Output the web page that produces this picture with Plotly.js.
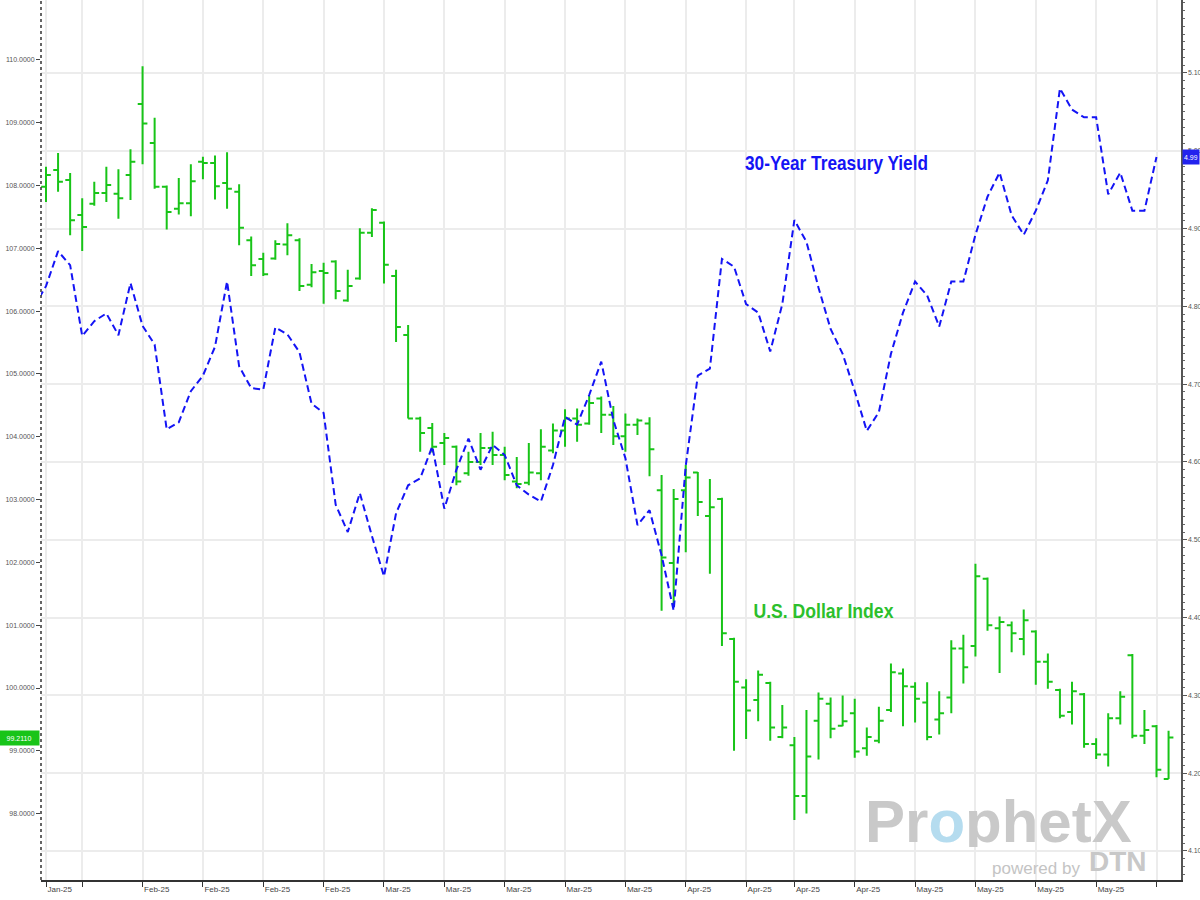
<!DOCTYPE html>
<html><head><meta charset="utf-8">
<script src="https://cdn.plot.ly/plotly-3.0.1.min.js"></script>
<style>html,body{margin:0;padding:0;background:#fff;} #chart{width:1200px;height:900px;}</style>
</head><body><div id="chart"></div>
<script>
// U.S. Dollar Index daily bars (index 0 = first visible session)
const dxyOpen = [107.98,108.25,108.09,107.53,107.71,107.88,107.87,108.17,109.30,108.68,
107.98,107.63,107.72,108.38,108.36,108.04,107.90,107.13,106.83,106.84,
107.06,107.13,106.42,106.64,106.79,106.17,106.52,107.25,107.41,106.56,
105.62,104.29,104.14,103.90,103.84,103.42,103.60,103.82,103.71,103.29,
103.27,103.42,103.78,104.10,104.29,104.21,104.61,104.35,104.01,104.19,
104.21,103.15,101.99,103.15,103.43,102.74,103.01,100.78,100.01,99.81,
100.08,99.22,99.09,98.28,99.48,99.75,99.40,99.60,99.04,99.16,
99.65,100.23,100.02,99.77,99.50,99.85,100.63,100.67,101.74,100.95,
101.00,100.78,100.90,100.42,99.97,99.62,99.90,99.11,98.94,99.52,
100.52,99.24,99.39,98.55];
const dxyHigh = [108.30,108.52,108.20,107.80,108.06,108.30,108.26,108.58,109.90,109.08,
108.00,108.12,108.34,108.46,108.48,108.53,108.02,107.19,106.93,107.13,
107.40,107.16,106.75,106.77,106.81,106.66,107.32,107.64,107.43,106.66,
105.78,104.32,104.22,104.06,103.86,103.76,104.06,104.08,103.84,103.68,
103.90,104.12,104.21,104.44,104.45,104.65,104.64,104.49,104.37,104.29,
104.31,103.39,103.17,103.55,103.44,103.33,103.03,100.80,100.14,100.28,
100.10,99.73,99.22,99.65,99.93,99.85,99.88,99.83,99.37,99.70,
100.39,100.31,100.09,100.09,99.95,100.76,100.85,101.98,101.76,101.14,
101.06,101.25,100.92,100.55,99.99,100.10,99.92,99.20,99.60,99.95,
100.54,99.65,99.41,99.32];
const dxyLow = [107.74,107.90,107.21,106.96,107.68,107.74,107.47,107.77,108.34,107.95,
107.30,107.54,107.51,108.10,107.78,107.63,107.05,106.56,106.56,106.82,
106.89,106.32,106.38,106.12,106.19,106.15,106.50,107.18,106.44,105.51,
104.29,103.76,103.75,103.55,103.23,103.38,103.55,103.55,103.31,103.18,
103.23,103.31,103.74,103.84,103.92,104.19,104.06,103.87,103.76,104.03,
103.37,101.23,101.30,102.16,102.74,101.82,100.67,99.00,99.19,99.47,
99.16,99.20,97.90,98.00,98.86,99.20,99.39,98.89,98.92,99.12,
99.62,99.39,99.45,99.17,99.26,99.60,100.07,100.50,100.91,100.24,
100.57,100.52,100.05,99.99,99.52,99.42,99.05,98.87,98.75,99.42,
99.20,99.11,98.58,98.55];
const dxyClose = [108.17,108.06,107.45,107.34,107.88,108.01,107.80,108.38,108.99,107.98,
107.58,107.72,108.07,108.36,107.99,107.95,107.33,106.73,106.59,107.07,
107.21,106.40,106.62,106.61,106.32,106.40,107.25,107.61,106.74,105.75,
104.29,104.06,103.84,103.98,103.29,103.60,103.82,103.71,103.39,103.25,
103.43,103.84,104.10,104.29,104.19,104.54,104.35,104.01,104.19,104.26,
103.80,102.08,103.01,103.35,102.96,102.88,100.87,100.10,99.64,100.21,
99.37,99.37,98.28,98.91,99.83,99.35,99.47,98.99,99.22,99.48,
100.25,100.03,99.83,99.22,99.60,100.63,100.33,101.78,101.00,101.05,
100.87,101.08,100.42,100.10,99.56,99.95,99.11,98.94,99.52,99.86,
99.24,99.33,98.70,99.21];
// 30-Year Treasury yield (%), first value sits one session before the first bar
const yield30 = [4.799,
4.826,4.871,4.853,4.762,4.781,4.791,4.763,4.830,4.775,4.751,
4.642,4.651,4.691,4.711,4.748,4.832,4.723,4.695,4.693,4.773,
4.764,4.741,4.675,4.663,4.545,4.510,4.560,4.505,4.453,4.534,
4.570,4.579,4.620,4.540,4.590,4.630,4.590,4.622,4.609,4.570,
4.558,4.549,4.596,4.658,4.648,4.686,4.729,4.654,4.605,4.519,
4.538,4.480,4.409,4.595,4.711,4.720,4.861,4.851,4.803,4.792,
4.742,4.803,4.911,4.883,4.824,4.771,4.739,4.691,4.640,4.664,
4.739,4.792,4.832,4.814,4.774,4.832,4.832,4.892,4.941,4.972,
4.917,4.892,4.923,4.962,5.080,5.053,5.043,5.043,4.944,4.972,
4.923,4.923,4.992];
// weekly tick positions (session index) and their labels
const tickIdx = [0,3,8,13,18,23,28,33,38,43,48,53,58,62,67,72,77,82,87,92];
const tickLabels = ['Jan-25','','Feb-25','Feb-25','Feb-25','Feb-25','Mar-25','Mar-25','Mar-25','Mar-25',
'Mar-25','Apr-25','Apr-25','Apr-25','Apr-25','May-25','May-25','May-25','May-25',''];
const dxyTicks = [98,99,100,101,102,103,104,105,106,107,108,109,110];
const lastDxyLabel = '99.2110';
const lastYieldLabel = '4.99';
const yieldTitle = '30-Year Treasury Yield';
const dxyTitle = 'U.S. Dollar Index';

const barX = dxyOpen.map((_, i) => i);
const yieldX = yield30.map((_, i) => i - 1);

const GREEN = '#18c418';
const BLUE = '#1414f5';
const SANS = 'Liberation Sans, Arial, sans-serif';

const traces = [
  {type:'ohlc', x:barX, open:dxyOpen, high:dxyHigh, low:dxyLow, close:dxyClose,
   increasing:{line:{color:GREEN, width:2}}, decreasing:{line:{color:GREEN, width:2}},
   tickwidth:0.4, hoverinfo:'none', showlegend:false, xaxis:'x', yaxis:'y'},
  {type:'scatter', mode:'lines', x:yieldX, y:yield30,
   line:{color:BLUE, width:2, dash:'7px,4px'}, hoverinfo:'none', showlegend:false,
   xaxis:'x', yaxis:'y2'}
];

const layout = {
  width:1200, height:900,
  margin:{l:41, r:19, t:0, b:20, pad:0},
  paper_bgcolor:'#ffffff', plot_bgcolor:'#ffffff',
  showlegend:false,
  xaxis:{range:[-0.414, 94.03], tickmode:'array', tickvals:tickIdx, ticktext:tickLabels,
    ticks:'outside', ticklen:5, tickcolor:'#333', tickwidth:1,
    ticklabelposition:'outside right',
    showgrid:true, gridcolor:'#ececec', gridwidth:2,
    showline:true, linecolor:'#333', linewidth:2, zeroline:false,
    rangeslider:{visible:false}, fixedrange:true,
    tickfont:{family:SANS, size:8, color:'#444'}},
  yaxis:{range:[96.943, 110.955], tickmode:'array', tickvals:dxyTicks, tickformat:'.4f',
    ticks:'outside', ticklen:4, tickcolor:'#444',
    showgrid:false, showline:false, zeroline:false, fixedrange:true,
    tickfont:{family:SANS, size:7, color:'#555'}},
  yaxis2:{overlaying:'y', side:'right', range:[4.0627, 5.1938], tick0:0, dtick:0.1, tickformat:'.2f',
    ticks:'outside', ticklen:4, tickcolor:'#555',
    minor:{ticks:'outside', dtick:0.01, ticklen:2, tickcolor:'#666', showgrid:false},
    showgrid:true, gridcolor:'#ececec', gridwidth:2,
    showline:true, linecolor:'#555', linewidth:1.5, zeroline:false, fixedrange:true,
    tickfont:{family:SANS, size:7, color:'#555'}},
  shapes:[
    {type:'line', xref:'paper', yref:'paper', x0:0, x1:0, y0:0, y1:1,
     line:{color:'#333', width:1.5, dash:'dot'}, layer:'above'}
  ],
  annotations:[
    {xref:'paper', yref:'paper', x:0.84, y:0.0675, xanchor:'center', yanchor:'middle', showarrow:false,
     text:'<b>Pr<span style="color:#b5dcef">o</span>phetX</b>', height:52,
     font:{family:SANS, size:60, color:'#c9c9c9'}},
    {xref:'paper', yref:'paper', x:0.873, y:0.0136, xanchor:'center', yanchor:'middle', showarrow:false,
     text:'powered by', font:{family:SANS, size:17, color:'#c4c4c4'}},
    {xref:'paper', yref:'paper', x:0.945, y:0.0205, xanchor:'center', yanchor:'middle', showarrow:false,
     text:'<b>DTN</b>', font:{family:SANS, size:28, color:'#c8c8c8'}},
    {xref:'paper', yref:'paper', x:0.6978, y:0.8148, xanchor:'center', yanchor:'middle', showarrow:false,
     text:'<b>' + yieldTitle + '</b>', font:{family:SANS, size:21, color:BLUE}},
    {xref:'paper', yref:'paper', x:0.6868, y:0.3068, xanchor:'center', yanchor:'middle', showarrow:false,
     text:'<b>' + dxyTitle + '</b>', font:{family:SANS, size:21, color:'#2cbf2c'}},
    {xref:'paper', yref:'y', x:0, y:dxyClose[dxyClose.length-1], xanchor:'right', yanchor:'middle', showarrow:false,
     text:lastDxyLabel, bgcolor:GREEN, width:38, height:12, borderpad:1, xshift:-1,
     font:{family:SANS, size:7, color:'#ffffff'}},
    {xref:'paper', yref:'y2', x:1, y:yield30[yield30.length-1], xanchor:'left', yanchor:'middle', showarrow:false,
     text:lastYieldLabel, bgcolor:'#2222ee', height:12, borderpad:1, xshift:1,
     font:{family:SANS, size:7, color:'#ffffff'}}
  ]
};

Plotly.newPlot('chart', traces, layout, {displayModeBar:false, staticPlot:true}).then(function () {
  // condense the two series captions to the narrow width of the original lettering
  const widths = {};
  widths[yieldTitle] = 183;
  widths[dxyTitle] = 140;
  document.querySelectorAll('.annotation-text').forEach(function (t) {
    const w = widths[t.textContent];
    if (w) {
      t.setAttribute('textLength', w);
      t.setAttribute('lengthAdjust', 'spacingAndGlyphs');
    }
  });
});
</script>
</body></html>
